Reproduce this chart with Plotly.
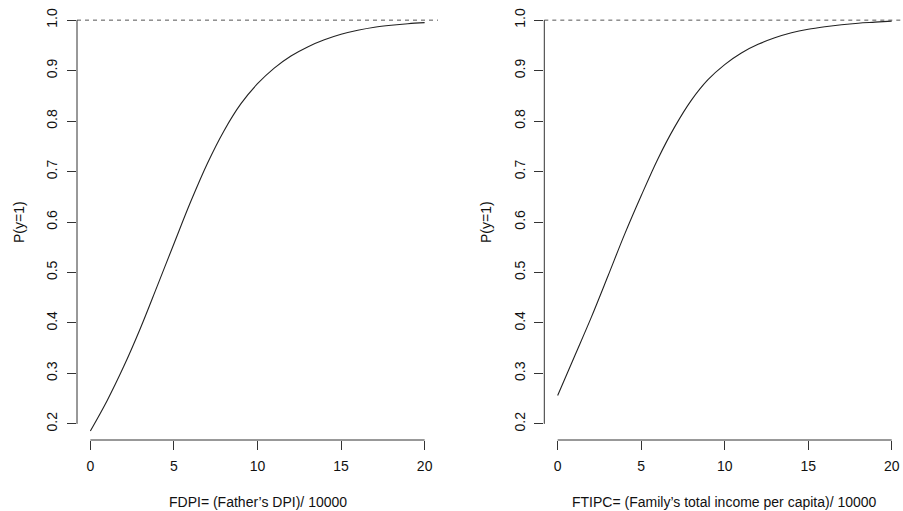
import plotly.graph_objects as go

# ---- data ----
x_vals = list(range(0, 21))
p_fdpi = [0.186, 0.246, 0.314, 0.390, 0.473, 0.557, 0.640, 0.716, 0.781, 0.834,
          0.874, 0.905, 0.929, 0.947, 0.961, 0.972, 0.980, 0.986, 0.990, 0.993, 0.995]
p_ftipc = [0.256, 0.333, 0.410, 0.492, 0.575, 0.652, 0.725, 0.788, 0.841, 0.882,
           0.912, 0.935, 0.952, 0.965, 0.975, 0.982, 0.987, 0.991, 0.994, 0.996, 0.998]
x_ticks = [0, 5, 10, 15, 20]
y_ticks = [0.2, 0.3, 0.4, 0.5, 0.6, 0.7, 0.8, 0.9, 1.0]
y_tick_text = ["0.2", "0.3", "0.4", "0.5", "0.6", "0.7", "0.8", "0.9", "1.0"]
x_title_left = "FDPI= (Father’s DPI)/ 10000"
x_title_right = "FTIPC= (Family’s total income per capita)/ 10000"
y_title = "P(y=1)"
ref_level = 1.0

W, H = 903, 511
FONT = "Liberation Sans, Arial, Helvetica, sans-serif"

fig = go.Figure()
fig.add_trace(go.Scatter(x=x_vals, y=p_fdpi, mode="lines",
                         line=dict(color="#222", width=1.1, shape="spline", smoothing=1.0),
                         xaxis="x", yaxis="y", showlegend=False))
fig.add_trace(go.Scatter(x=x_vals, y=p_ftipc, mode="lines",
                         line=dict(color="#222", width=1.1, shape="spline", smoothing=1.0),
                         xaxis="x2", yaxis="y2", showlegend=False))

ydom = [(511 - 440) / H, (511 - 4) / H]
common_x = dict(tickmode="array", tickvals=x_ticks, ticks="outside", ticklen=9, tickwidth=1,
                tickcolor="#333", showgrid=False, zeroline=False, showline=False, ticklabelstandoff=4,
                tickfont=dict(family=FONT, size=14, color="#111"), fixedrange=True)
common_y = dict(tickmode="array", tickvals=y_ticks, ticktext=y_tick_text, ticks="outside", ticklen=9,
                tickwidth=1, tickcolor="#333", showgrid=False, zeroline=False, showline=False,
                tickangle=-90, range=[0.168, 1.032], domain=ydom, ticklabelstandoff=4,
                tickfont=dict(family=FONT, size=14, color="#111"), fixedrange=True)

fig.update_layout(
    width=W, height=H,
    margin=dict(l=0, r=0, t=0, b=0),
    paper_bgcolor="white", plot_bgcolor="white",
    xaxis=dict(domain=[77 / W, 438 / W], range=[-0.8, 20.8], anchor="y", **common_x),
    yaxis=dict(anchor="x", **common_y),
    xaxis2=dict(domain=[544.3 / W, 1.0], range=[-0.8, 20.677], anchor="y2", **common_x),
    yaxis2=dict(anchor="x2", **common_y),
)

shapes = []
for xa, ya in (("x", "y"), ("x2", "y2")):
    # dashed reference line
    shapes.append(dict(type="line", xref=f"{xa} domain", yref=ya, x0=0, x1=1, y0=ref_level, y1=ref_level,
                       line=dict(color="#555", width=1, dash="4px,4px")))
    # R-style axis lines spanning first to last tick
    shapes.append(dict(type="line", xref=f"{xa} domain", yref=ya, x0=0, x1=0, y0=y_ticks[0], y1=y_ticks[-1],
                       line=dict(color="#333", width=1)))
    shapes.append(dict(type="line", xref=xa, yref=f"{ya} domain", x0=x_ticks[0], x1=x_ticks[-1], y0=0, y1=0,
                       line=dict(color="#333", width=1)))
fig.update_layout(shapes=shapes)

ann = []
ann.append(dict(text=x_title_left, x=257.5 / W, y=(511 - 501.7) / H, xref="paper", yref="paper",
                showarrow=False, xanchor="center", yanchor="middle", font=dict(family=FONT, size=14, color="#111")))
ann.append(dict(text=x_title_right, x=724.7 / W, y=(511 - 501.7) / H, xref="paper", yref="paper",
                showarrow=False, xanchor="center", yanchor="middle", font=dict(family=FONT, size=14, color="#111")))
ann.append(dict(text=y_title, x=19 / W, y=(511 - 222) / H, xref="paper", yref="paper", textangle=-90,
                showarrow=False, xanchor="center", yanchor="middle", font=dict(family=FONT, size=14, color="#111")))
ann.append(dict(text=y_title, x=486 / W, y=(511 - 222) / H, xref="paper", yref="paper", textangle=-90,
                showarrow=False, xanchor="center", yanchor="middle", font=dict(family=FONT, size=14, color="#111")))
fig.update_layout(annotations=ann)

fig.write_html("out.html")
